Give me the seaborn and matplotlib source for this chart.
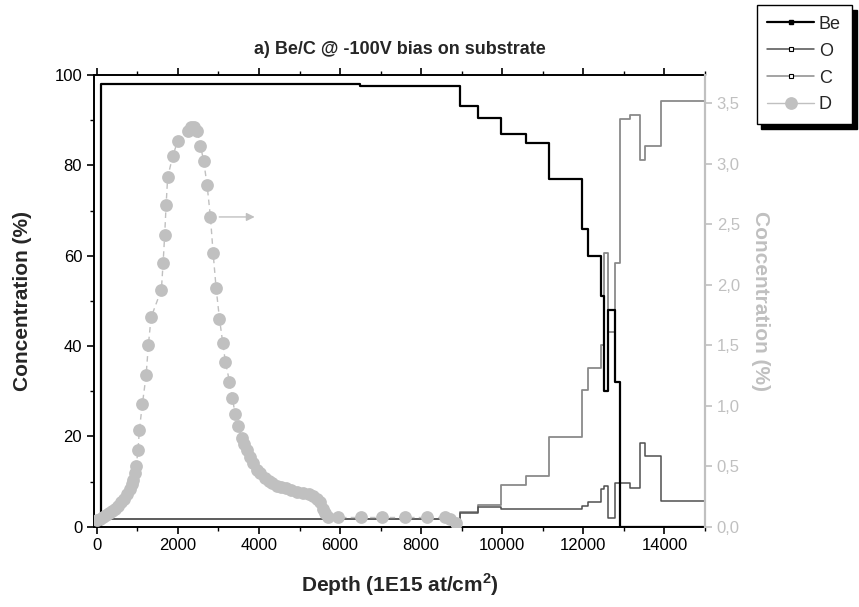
import matplotlib
matplotlib.use('Agg')
import matplotlib.pyplot as plt
from matplotlib.lines import Line2D
from matplotlib.ticker import MultipleLocator, FuncFormatter
import seaborn as sns

# layer profile, drawn as steps (left axis, %)
depth_steps = [0, 100, 6500, 8950, 9400, 9980, 10580, 11150, 11960, 12120,
               12430, 12510, 12620, 12770, 12790, 12900, 13150, 13390, 13510,
               13920, 15000]
be_conc = [0, 98, 97.5, 93.2, 90.4, 87, 84.9, 77, 66, 60,
           51, 30, 48, 42, 32, 0, 0, 0, 0, 0, 0]
o_conc = [0, 1.6, 1.6, 3.0, 4.4, 4.0, 4.0, 4.0, 4.5, 5.5,
          8.3, 9.0, 2.0, 9.6, 9.6, 9.6, 8.6, 18.6, 15.7, 5.6, 5.6]
c_conc = [0, 1.8, 1.8, 3.2, 4.8, 9.2, 11.2, 19.9, 30.3, 35.1,
          40.2, 60.7, 43, 56, 58.3, 90.2, 91.1, 81.2, 84.2, 94.3, 94.3]

# deuterium profile (right axis, %)
d_depth = [12, 86, 160, 235, 309, 383, 457, 531, 605, 679, 753, 815, 864, 901, 933,
           968, 1017, 1049, 1123, 1215, 1272, 1338, 1593, 1635, 1674, 1709, 1748, 1872, 1995,
           2259, 2333, 2407, 2481, 2556, 2637, 2721, 2802, 2869, 2943, 3025, 3106, 3173,
           3272, 3346, 3412, 3494, 3575,
           3642, 3716, 3790, 3864, 3956, 4037, 4136, 4235, 4333, 4432, 4531, 4654, 4778,
           4926, 5074, 5222, 5321, 5420, 5494, 5568, 5630, 5691,
           5956, 6506, 7042, 7593, 8136, 8580, 8700, 8850]
d_conc = [0.055, 0.064, 0.08, 0.096, 0.11, 0.13, 0.15, 0.17, 0.20, 0.23, 0.27, 0.31, 0.35, 0.39, 0.44,
          0.50, 0.63, 0.80, 1.01, 1.25, 1.50, 1.73, 1.96, 2.18, 2.41, 2.66, 2.89, 3.06, 3.19,
          3.27, 3.30, 3.30, 3.27, 3.15, 3.02, 2.82, 2.56, 2.26, 1.97, 1.72, 1.52, 1.36,
          1.20, 1.06, 0.93, 0.83, 0.73,
          0.68, 0.63, 0.58, 0.53, 0.47, 0.44, 0.40, 0.38, 0.36, 0.34, 0.33, 0.32, 0.30,
          0.29, 0.28, 0.27, 0.25, 0.23, 0.20, 0.15, 0.11, 0.08,
          0.076, 0.076, 0.076, 0.076, 0.076, 0.076, 0.06, 0.03]

D_GRAY = '#c0c0c0'

sns.set_theme(style='ticks')
plt.rcParams['font.family'] = ['Liberation Sans', 'DejaVu Sans']
plt.rcParams['mathtext.fontset'] = 'custom'
plt.rcParams['mathtext.rm'] = 'Liberation Sans'
plt.rcParams['mathtext.bf'] = 'Liberation Sans:bold'
plt.rcParams['axes.linewidth'] = 1.4

fig = plt.figure(figsize=(8.59, 6.07), dpi=100)
ax = fig.add_axes([0.1094, 0.1323, 0.7113, 0.7441])
ax2 = ax.twinx()

sns.lineplot(x=depth_steps, y=c_conc, ax=ax, color='#8a8a8a', lw=1.3,
             drawstyle='steps-post', estimator=None, legend=False)
sns.lineplot(x=depth_steps, y=o_conc, ax=ax, color='#505050', lw=1.1,
             drawstyle='steps-post', estimator=None, legend=False)
sns.lineplot(x=depth_steps, y=be_conc, ax=ax, color='black', lw=1.6,
             drawstyle='steps-post', estimator=None, legend=False)

sns.lineplot(x=d_depth, y=d_conc, ax=ax2, color=D_GRAY, lw=1.0,
             linestyle=(0, (4, 3)), marker='o', markersize=9.2,
             markeredgewidth=0, markerfacecolor=D_GRAY,
             estimator=None, sort=False, legend=False)

# arrow pointing to the right-hand axis
i_arr = 36
ax2.annotate('', xy=(d_depth[i_arr] + 1160, d_conc[i_arr]),
             xytext=(d_depth[i_arr] + 150, d_conc[i_arr]),
             arrowprops=dict(arrowstyle='-|>', color=D_GRAY, lw=1.0,
                             mutation_scale=12))

ax.set_xlim(-70, 15000)
ax.set_ylim(0, 100)
ax2.set_ylim(0, 3.733)

ax.xaxis.set_major_locator(MultipleLocator(2000))
ax.xaxis.set_minor_locator(MultipleLocator(1000))
ax.yaxis.set_major_locator(MultipleLocator(20))
ax.yaxis.set_minor_locator(MultipleLocator(10))
ax2.yaxis.set_major_locator(MultipleLocator(0.5))
ax2.yaxis.set_major_formatter(FuncFormatter(lambda v, p: f'{v:.1f}'.replace('.', ',')))

ax.tick_params(axis='both', which='major', labelsize=12, length=5, width=1.2,
               color='black', labelcolor='black')
ax.tick_params(axis='both', which='minor', length=3, width=1.0, color='black')
ax.tick_params(axis='x', which='both', top=True)
ax2.tick_params(axis='y', which='major', labelsize=12, length=5, width=1.2,
                color=D_GRAY, labelcolor=D_GRAY)

for sp in ['left', 'bottom', 'top']:
    ax.spines[sp].set_color('black')
ax2.spines['right'].set_color(D_GRAY)
ax2.spines['right'].set_linewidth(1.6)
ax.spines['right'].set_visible(False)
for sp in ['left', 'bottom', 'top']:
    ax2.spines[sp].set_visible(False)

ax.set_xlabel(r'Depth (1E15 at/cm$^\mathbf{2}$)', fontsize=15, fontweight='bold', labelpad=13)
ax.set_ylabel('Concentration (%)', fontsize=15, fontweight='bold', labelpad=16)
ax2.set_ylabel('Concentration (%)', fontsize=15, fontweight='bold', color=D_GRAY,
               rotation=270, labelpad=22)
ax.set_title('a) Be/C @ -100V bias on substrate', fontsize=13, fontweight='bold', pad=15)

handles = [
    Line2D([], [], color='black', lw=1.6, marker='s', markersize=3.5,
           markerfacecolor='black', markeredgecolor='black'),
    Line2D([], [], color='#505050', lw=1.1, marker='s', markersize=3.5,
           markerfacecolor='white', markeredgecolor='black', markeredgewidth=0.8),
    Line2D([], [], color='#8a8a8a', lw=1.1, marker='s', markersize=3.5,
           markerfacecolor='white', markeredgecolor='black', markeredgewidth=0.8),
    Line2D([], [], color=D_GRAY, lw=1.0, marker='o', markersize=9.2,
           markerfacecolor=D_GRAY, markeredgewidth=0),
]
leg = fig.legend(handles, ['Be', 'O', 'C', 'D'], loc='upper right',
                 bbox_to_anchor=(0.9915, 0.992), borderaxespad=0, fontsize=13,
                 handlelength=2.6, labelspacing=0.55, borderpad=0.6,
                 handletextpad=0.25, frameon=True, fancybox=False, framealpha=1,
                 shadow={'ox': 3.5, 'oy': -3.5, 'color': 'black', 'alpha': 1})
leg.get_frame().set_edgecolor('black')
leg.get_frame().set_linewidth(1.0)

fig.savefig('out.png', dpi=100)
